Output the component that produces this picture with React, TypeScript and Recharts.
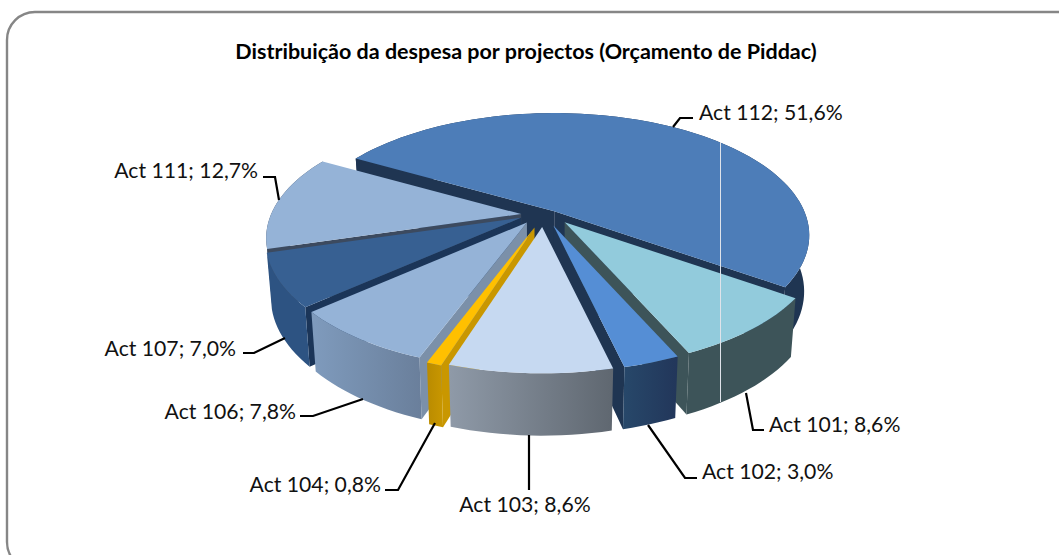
import { PieChart, Pie } from "recharts";

const names = ["Act 101", "Act 102", "Act 103", "Act 104", "Act 106", "Act 107", "Act 111", "Act 112"];
const shares = [8.6, 3.0, 8.6, 0.8, 7.8, 7.0, 12.7, 51.6];
const topColors = ["#92cbdc", "#558ed5", "#c6d9f1", "#ffc000", "#95b3d7", "#376092", "#95b3d7", "#4d7db8"];
const cutColors = ["#3d5459", "#1f3552", "#5f6770", "#c99700", "#7b90a9", "#1b3558", "#3c4a5f", "#1f3552"];
const wallFrom = ["#3d5459", "#27486a", "#8f9aa8", "#b98b00", "#7f9bbd", "#2d5382", "#3c4a5f", "#1f3552"];
const wallTo = ["#3d5459", "#22365a", "#5f6770", "#c99700", "#6a7f9b", "#2d5382", "#3c4a5f", "#1f3552"];
// back to front
const paintOrder = ["Act 112", "Act 111", "Act 107", "Act 106", "Act 104", "Act 101", "Act 102", "Act 103"];

const chartData = names.map((name, i) => ({ name, value: shares[i] }));

// the exploded slices don't sit on one clean circle, small fix per slice
const nudges: Record<string, [number, number]> = {
  "Act 101": [8, -2],
  "Act 102": [4, 0],
  "Act 103": [1, 1],
  "Act 104": [0, 2],
  "Act 106": [-2, -2],
  "Act 107": [-1, -4],
  "Act 111": [2, -3],
  "Act 112": [0, 0],
};

// leader line + text place for each label
const labelSpots: Record<string, { line: string; x: number; y: number; anchor: string }> = {
  "Act 112": { line: "673,127 680,118 693,118", x: 699, y: 120, anchor: "start" },
  "Act 111": { line: "263,177 275,177 279,200", x: 258, y: 178, anchor: "end" },
  "Act 107": { line: "243,353 254,353 285,338", x: 236, y: 356, anchor: "end" },
  "Act 106": { line: "300,416 313,416 363,399", x: 296, y: 419, anchor: "end" },
  "Act 104": { line: "385,490 398,490 435,423", x: 381, y: 492, anchor: "end" },
  "Act 103": { line: "529,435 529,490", x: 525, y: 512, anchor: "middle" },
  "Act 102": { line: "648,425 685,478 697,478", x: 702, y: 479, anchor: "start" },
  "Act 101": { line: "746,393 753,430 764,430", x: 769, y: 432, anchor: "start" },
};

const PERSPECTIVE = 0.197;
const FLATTEN = 0.47;
const DEPTH = 55;
const BOTTOM_SCALE_X = 0.98;
const BOTTOM_SCALE_Y = 1.05;
const BLOW_X = 23;
const BLOW_Y = 8;

const rad = (d: number) => (d * Math.PI) / 180;

function rimPoint(a: number, r: number) {
  const w = 1 + PERSPECTIVE * Math.sin(rad(a));
  return { x: (r * Math.cos(rad(a))) / w, y: (-r * FLATTEN * Math.sin(rad(a))) / w };
}

function Slice(props: any) {
  const { cx, cy, outerRadius, startAngle, endAngle, midAngle, name } = props;
  const i = names.indexOf(name);
  const ax = cx + BLOW_X * Math.cos(rad(midAngle)) + nudges[name][0];
  const ay = cy - BLOW_Y * Math.sin(rad(midAngle)) + nudges[name][1];
  const lo = Math.min(startAngle, endAngle);
  const hi = Math.max(startAngle, endAngle);
  const rim: { x: number; y: number }[] = [];
  const steps = Math.max(4, Math.ceil((hi - lo) / 2));
  for (let s = 0; s <= steps; s++) rim.push(rimPoint(lo + ((hi - lo) * s) / steps, outerRadius));

  const top = (p: { x: number; y: number }) => `${ax + p.x},${ay + p.y}`;
  const bottom = (p: { x: number; y: number }) =>
    `${ax + p.x * BOTTOM_SCALE_X},${ay + p.y * BOTTOM_SCALE_Y + DEPTH}`;
  const apex = { x: 0, y: 0 };
  const middle = rimPoint(midAngle, outerRadius);
  // a cut face only shows when the slice lies above that edge on screen
  const cutFaces = [rim[0], rim[rim.length - 1]].filter((p) => (p.x * middle.y - p.y * middle.x) * p.x < 0);
  const gradId = `wall-${i}`;

  return (
    <g>
      <defs>
        <linearGradient id={gradId} x1="0" x2="1" y1="0" y2="0">
          <stop offset="0" stopColor={wallFrom[i]} />
          <stop offset="1" stopColor={wallTo[i]} />
        </linearGradient>
      </defs>
      {cutFaces.map((p, k) => (
        <polygon key={k} points={[top(apex), top(p), bottom(p), bottom(apex)].join(" ")} fill={cutColors[i]} />
      ))}
      <polygon
        points={[...rim.map(top), ...rim.slice().reverse().map(bottom)].join(" ")}
        fill={`url(#${gradId})`}
      />
      <polygon points={[top(apex), ...rim.map(top)].join(" ")} fill={topColors[i]} />
    </g>
  );
}

function SliceLabel(props: any) {
  const spot = labelSpots[props.name];
  const text = `${props.name}; ${props.value.toFixed(1).replace(".", ",")}%`;
  return (
    <g>
      {/* thin light seam that crosses the pie in the original */}
      {props.name === "Act 112" && <line x1={720.5} y1={142} x2={720.5} y2={402} stroke="#dfe3ea" strokeWidth={1} />}
      <polyline points={spot.line} fill="none" stroke="#000" strokeWidth={2.2} />
      <text x={spot.x} y={spot.y} textAnchor={spot.anchor} fontFamily="Lato" fontSize={21.2} fill="#111">
        {text}
      </text>
    </g>
  );
}

export default function App() {
  return (
    <div style={{ position: "absolute", left: 0, top: 0, width: 1059, height: 555, overflow: "hidden", background: "#fff" }}>
      <PieChart width={1059} height={555} margin={{ top: 0, right: 0, bottom: 0, left: 0 }}>
        <rect x={7} y={12} width={1078} height={558} rx={28} ry={28} fill="#fff" stroke="#868686" strokeWidth={2.4} />
        <text x={526} y={59} textAnchor="middle" fontFamily="Lato" fontWeight={700} fontSize={21.5} fill="#000">
          Distribuição da despesa por projectos (Orçamento de Piddac)
        </text>
        {paintOrder.map((slice) => (
          <Pie
            key={slice}
            data={chartData}
            dataKey="value"
            nameKey="name"
            cx={542}
            cy={218}
            outerRadius={250}
            startAngle={-35}
            endAngle={-395}
            stroke="none"
            isAnimationActive={false}
            labelLine={false}
            label={slice === "Act 103" ? SliceLabel : false}
            shape={(p: any) => (p.name === slice ? <Slice {...p} /> : <g />)}
          />
        ))}
      </PieChart>
    </div>
  );
}
